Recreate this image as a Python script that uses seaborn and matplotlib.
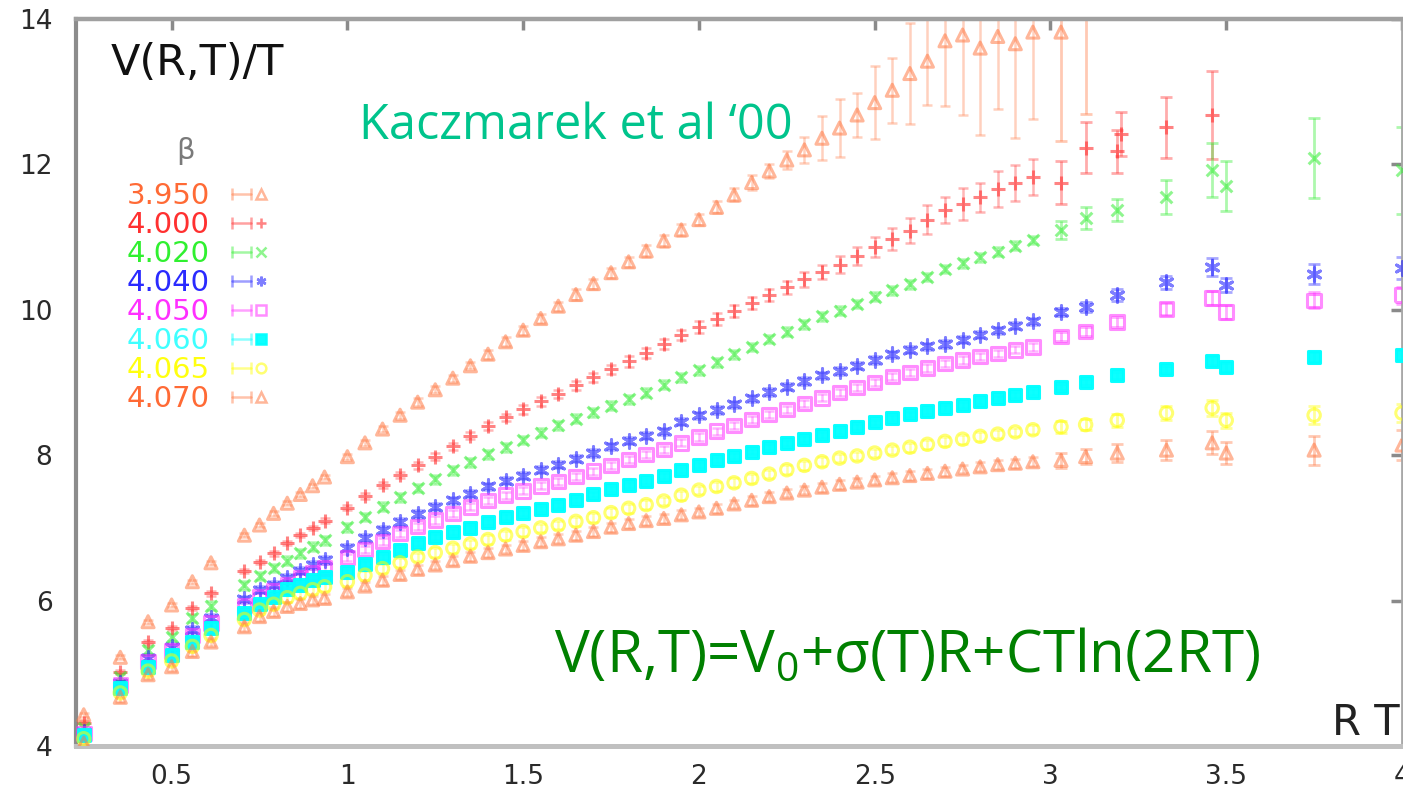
import numpy as np
import pandas as pd
import matplotlib
matplotlib.use("Agg")
import matplotlib.pyplot as plt
import seaborn as sns
from matplotlib.lines import Line2D
from matplotlib.legend_handler import HandlerLine2D, HandlerTuple

# ---------------- data ----------------
betas = ["3.950", "4.000", "4.020", "4.040", "4.050", "4.060", "4.065", "4.070"]

rt = [0.25, 0.354, 0.433, 0.50, 0.559, 0.612, 0.707, 0.75, 0.79, 0.829, 0.866, 0.901, 0.935,
      1.00, 1.05, 1.10, 1.15, 1.20, 1.25, 1.30, 1.35, 1.40, 1.45, 1.50, 1.55, 1.60, 1.65,
      1.70, 1.75, 1.80, 1.85, 1.90, 1.95, 2.00, 2.05, 2.10, 2.15, 2.20, 2.25, 2.30, 2.35,
      2.40, 2.45, 2.50, 2.55, 2.60, 2.65, 2.70, 2.75, 2.80, 2.85, 2.90, 2.95]
rt_tail = [3.03, 3.10, 3.19, 3.20, 3.33, 3.46, 3.50, 3.75, 4.00]

v3950 = [4.43, 5.22, 5.71, 5.94, 6.26, 6.52, 6.90, 7.04, 7.20, 7.34, 7.46, 7.58, 7.70,
         7.98, 8.17, 8.36, 8.55, 8.73, 8.90, 9.06, 9.23, 9.39, 9.56, 9.72, 9.88, 10.05, 10.21,
         10.36, 10.51, 10.66, 10.81, 10.95, 11.10, 11.24, 11.41, 11.58, 11.75, 11.91, 12.06, 12.20, 12.36,
         12.50, 12.68, 12.85, 13.02, 13.25, 13.42, 13.70, 13.78, 13.60, 13.76, 13.66, 13.82]
v4000 = [4.32, 5.02, 5.43, 5.62, 5.90, 6.10, 6.41, 6.53, 6.65, 6.79, 6.90, 7.00, 7.10,
         7.28, 7.44, 7.59, 7.73, 7.86, 7.98, 8.12, 8.27, 8.40, 8.52, 8.63, 8.74, 8.84, 8.96,
         9.07, 9.18, 9.29, 9.41, 9.53, 9.65, 9.76, 9.87, 9.98, 10.09, 10.20, 10.31, 10.42, 10.52,
         10.62, 10.74, 10.86, 10.97, 11.09, 11.24, 11.37, 11.46, 11.55, 11.66, 11.74, 11.83]
v4020 = [4.25, 4.95, 5.32, 5.50, 5.76, 5.93, 6.21, 6.34, 6.45, 6.55, 6.65, 6.74, 6.83,
         7.01, 7.15, 7.29, 7.42, 7.55, 7.67, 7.79, 7.90, 8.01, 8.11, 8.21, 8.31, 8.41, 8.50,
         8.59, 8.68, 8.77, 8.86, 8.97, 9.07, 9.17, 9.28, 9.39, 9.49, 9.60, 9.70, 9.80, 9.91,
         9.99, 10.08, 10.18, 10.27, 10.35, 10.45, 10.56, 10.64, 10.72, 10.80, 10.88, 10.96]
v4040 = [4.19, 4.87, 5.21, 5.36, 5.60, 5.76, 6.02, 6.15, 6.22, 6.31, 6.41, 6.49, 6.56,
         6.73, 6.86, 6.97, 7.08, 7.19, 7.29, 7.38, 7.47, 7.57, 7.65, 7.72, 7.80, 7.87, 7.95,
         8.03, 8.12, 8.20, 8.27, 8.33, 8.46, 8.55, 8.62, 8.70, 8.78, 8.87, 8.94, 9.02, 9.10,
         9.16, 9.23, 9.31, 9.39, 9.45, 9.50, 9.53, 9.59, 9.66, 9.72, 9.78, 9.84]
v4050 = [4.17, 4.84, 5.16, 5.31, 5.52, 5.69, 5.93, 6.05, 6.14, 6.22, 6.31, 6.38, 6.45,
         6.59, 6.70, 6.81, 6.92, 7.02, 7.11, 7.20, 7.29, 7.38, 7.45, 7.51, 7.58, 7.64, 7.71,
         7.78, 7.86, 7.94, 8.01, 8.08, 8.17, 8.25, 8.33, 8.41, 8.49, 8.56, 8.63, 8.71, 8.79,
         8.86, 8.93, 9.00, 9.08, 9.14, 9.20, 9.26, 9.31, 9.36, 9.40, 9.45, 9.49]
v4060 = [4.15, 4.80, 5.09, 5.25, 5.43, 5.62, 5.83, 5.96, 6.05, 6.16, 6.22, 6.28, 6.32,
         6.40, 6.50, 6.60, 6.70, 6.79, 6.87, 6.94, 7.00, 7.08, 7.15, 7.21, 7.26, 7.31, 7.38,
         7.46, 7.53, 7.59, 7.65, 7.71, 7.80, 7.87, 7.93, 7.99, 8.05, 8.11, 8.17, 8.22, 8.28,
         8.33, 8.39, 8.45, 8.51, 8.56, 8.61, 8.65, 8.69, 8.74, 8.78, 8.83, 8.87]
v4065 = [4.10, 4.73, 5.03, 5.17, 5.37, 5.52, 5.74, 5.87, 5.95, 6.04, 6.10, 6.15, 6.19,
         6.26, 6.35, 6.44, 6.52, 6.60, 6.66, 6.72, 6.78, 6.84, 6.90, 6.95, 7.00, 7.04, 7.09,
         7.14, 7.21, 7.27, 7.32, 7.37, 7.45, 7.52, 7.57, 7.62, 7.68, 7.74, 7.80, 7.86, 7.91,
         7.96, 7.99, 8.03, 8.07, 8.11, 8.15, 8.19, 8.22, 8.26, 8.29, 8.32, 8.35]
v4070 = [4.04, 4.67, 4.98, 5.09, 5.30, 5.43, 5.64, 5.78, 5.85, 5.92, 5.96, 6.01, 6.03,
         6.12, 6.20, 6.28, 6.36, 6.43, 6.49, 6.55, 6.61, 6.66, 6.71, 6.76, 6.81, 6.85, 6.90,
         6.95, 7.01, 7.06, 7.10, 7.13, 7.18, 7.22, 7.27, 7.33, 7.38, 7.43, 7.48, 7.52, 7.56,
         7.60, 7.63, 7.66, 7.69, 7.72, 7.75, 7.78, 7.81, 7.84, 7.87, 7.89, 7.91]

# errors on the main points
e3950 = [0.03] * 13 + [0.04, 0.04, 0.04, 0.05, 0.05, 0.05, 0.05, 0.05, 0.06, 0.06, 0.06, 0.06,
                       0.06, 0.07, 0.07, 0.07, 0.07, 0.08, 0.08, 0.08, 0.08, 0.08, 0.09, 0.10,
                       0.10, 0.12, 0.18, 0.30, 0.40, 0.30, 0.50, 0.45, 0.70, 0.60, 0.90, 1.10,
                       1.20, 1.00, 1.30, 1.20]
e4000 = [0.03] * 13 + [0.04, 0.04, 0.04, 0.04, 0.05, 0.05, 0.05, 0.05, 0.05, 0.05, 0.06, 0.06,
                       0.06, 0.06, 0.06, 0.06, 0.07, 0.07, 0.07, 0.07, 0.08, 0.08, 0.08, 0.08,
                       0.08, 0.09, 0.10, 0.10, 0.12, 0.12, 0.14, 0.15, 0.17, 0.20, 0.18, 0.22,
                       0.20, 0.25, 0.25, 0.25]
e_other = [0.06, 0.05, 0.05, 0.04, 0.06, 0.06]

# tail points (nan = no point)
t3950 = [13.82, 14.60, np.nan, np.nan, np.nan, np.nan, np.nan, np.nan, np.nan]
et3950 = [1.50, 1.90, 0, 0, 0, 0, 0, 0, 0]
t4000 = [11.75, 12.23, 12.18, 12.42, 12.51, 12.68, np.nan, np.nan, np.nan]
et4000 = [0.30, 0.35, 0.30, 0.30, 0.42, 0.60, 0, 0, 0]
t4020 = [11.10, 11.26, 11.37, np.nan, 11.55, 11.92, 11.70, 12.09, 11.92]
et4020 = [0.12, 0.15, 0.15, 0, 0.23, 0.37, 0.34, 0.55, 0.60]
t4040 = [9.97, 10.04, 10.20, np.nan, 10.38, 10.59, 10.34, 10.49, 10.57]
et4040 = [0.06, 0.07, 0.08, 0, 0.09, 0.12, 0.10, 0.14, 0.15]
t4050 = [9.63, 9.70, 9.83, np.nan, 10.01, 10.16, 9.97, 10.13, 10.20]
et4050 = [0.06, 0.06, 0.07, 0, 0.08, 0.10, 0.09, 0.11, 0.12]
t4060 = [8.94, 9.01, 9.10, np.nan, 9.18, 9.30, 9.21, 9.35, 9.38]
et4060 = [0.04, 0.04, 0.05, 0, 0.05, 0.06, 0.06, 0.07, 0.07]
t4065 = [8.39, 8.42, 8.48, np.nan, 8.58, 8.65, 8.48, 8.55, 8.58]
et4065 = [0.08, 0.08, 0.09, 0, 0.10, 0.11, 0.10, 0.12, 0.12]
t4070 = [7.93, 7.98, 8.03, np.nan, 8.07, 8.17, 8.03, 8.07, 8.14]
et4070 = [0.10, 0.10, 0.12, 0, 0.14, 0.16, 0.15, 0.20, 0.20]

main_vals = [v3950, v4000, v4020, v4040, v4050, v4060, v4065, v4070]
main_errs = [e3950, e4000] + e_other
tail_vals = [t3950, t4000, t4020, t4040, t4050, t4060, t4065, t4070]
tail_errs = [et3950, et4000, et4020, et4040, et4050, et4060, et4065, et4070]

xticks = [0.5, 1, 1.5, 2, 2.5, 3, 3.5, 4]
xticklabels = ["0.5", "1", "1.5", "2", "2.5", "3", "3.5", "4"]
yticks = [4, 6, 8, 10, 12, 14]

# ---------------- styles ----------------
colors = ["#ff7a45", "#ff3030", "#33ee33", "#2828ff", "#ff30ff", "#00ffff", "#ffff00", "#ff7a45"]
label_colors = ["#ff6a35", "#ff3030", "#30f030", "#2a2aff", "#ff30ff", "#40ffff", "#ffff10", "#ff6a35"]
markers = ["^", "+", "x", (6, 2, 0), "s", "s", "o", "^"]
filled = [False, True, True, True, False, True, False, False]
sizes = [75, 95, 70, 95, 95, 80, 80, 75]
alphas = [0.55, 0.6, 0.55, 0.6, 0.55, 0.95, 0.55, 0.55]

sns.set_theme(style="white")
plt.rcParams["font.family"] = ["DejaVu Sans"]
plt.rcParams["mathtext.fontset"] = "custom"
plt.rcParams["mathtext.rm"] = "Open Sans"
plt.rcParams["mathtext.it"] = "Open Sans"

fig = plt.figure(figsize=(14.03, 7.88), dpi=100)
fig.patch.set_facecolor("white")
ax = fig.add_axes([76 / 1403, 42 / 788, (1402 - 76) / 1403, (746 - 19) / 788])
ax.set_facecolor("white")

for i, b in enumerate(betas):
    c = colors[i]
    ax.errorbar(rt, main_vals[i], yerr=main_errs[i], fmt="none", ecolor=c,
                elinewidth=1.8, capsize=3.5, capthick=1.8, alpha=0.35, zorder=2)
    ax.errorbar(rt_tail, tail_vals[i], yerr=tail_errs[i], fmt="none", ecolor=c,
                elinewidth=2.0, capsize=4, capthick=2.0, alpha=0.4, zorder=2)
    df = pd.DataFrame({"rt": rt + rt_tail,
                       "v": list(main_vals[i]) + list(tail_vals[i])}).dropna()
    kw = dict(marker=markers[i], s=sizes[i], color=c, edgecolor=c, alpha=alphas[i],
              linewidth=2.2, ax=ax, legend=False, zorder=3)
    if not filled[i]:
        kw["facecolor"] = "none"
    sns.scatterplot(data=df, x="rt", y="v", **kw)

ax.set_xlabel("")
ax.set_ylabel("")
ax.set_xlim(0.228, 4.0)
ax.set_ylim(4, 14)
ax.set_xticks(xticks)
ax.set_xticklabels(xticklabels)
ax.set_yticks(yticks)

ax.tick_params(axis="both", direction="in", length=8, width=2.5, color="#8a8a8a",
               labelsize=19, labelcolor="#2a2a2a", top=True, right=True)
ax.tick_params(axis="y", pad=17)
ax.tick_params(axis="x", pad=13)

for side, lw, col in [("left", 3.0, "#8c8c8c"), ("top", 3.2, "#a0a0a0"),
                      ("bottom", 3.6, "#c0c0c0"), ("right", 2.0, "#a8a8a8")]:
    ax.spines[side].set_visible(True)
    ax.spines[side].set_linewidth(lw)
    ax.spines[side].set_color(col)

# ---------------- texts ----------------
ax.text(0.026, 0.923, "V(R,T)/T", transform=ax.transAxes, fontsize=31,
        color="#111111", ha="left", va="baseline")
ax.text(0.083, 0.818, "β", transform=ax.transAxes, fontsize=21,
        color="#7a7a7a", ha="center", va="center")
ax.text(0.2134, 0.835, "Kaczmarek et al \u201800", transform=ax.transAxes,
        fontsize=35, color="#00c48c", family=["Open Sans", "DejaVu Sans"],
        ha="left", va="baseline")
ax.text(0.3605, 0.1018, "V(R,T)=V$_0$+σ(T)R+CTln(2RT)", transform=ax.transAxes,
        fontsize=42, color="#008000", family=["Open Sans", "DejaVu Sans"],
        ha="left", va="baseline")
ax.text(0.9985, 0.015, "R T", transform=ax.transAxes, fontsize=30,
        color="#222222", ha="right", va="baseline")

# ---------------- legend ----------------
handles = []
hmap = {tuple: HandlerTuple(ndivide=None, pad=0.0)}
for i in range(len(betas)):
    c = colors[i]
    bar = Line2D([], [], color=c, lw=1.8, alpha=0.45, marker="|", markersize=9,
                 markeredgewidth=1.8)
    pt = Line2D([], [], ls="none", marker=markers[i], color=c,
                mfc=(c if filled[i] else "none"), mec=c, markersize=7,
                markeredgewidth=1.8, alpha=alphas[i])
    hmap[bar] = HandlerLine2D(numpoints=2, marker_pad=0.0)
    handles.append((bar, pt))

leg = ax.legend(handles, betas, handler_map=hmap, loc="upper left",
                bbox_to_anchor=(0.038, 0.776), frameon=False, markerfirst=False,
                fontsize=21, labelcolor=label_colors, numpoints=1,
                handlelength=1.35, handletextpad=0.75, labelspacing=0.035,
                borderpad=0.0, borderaxespad=0.0)

fig.savefig("out.png", dpi=100, facecolor="white")
